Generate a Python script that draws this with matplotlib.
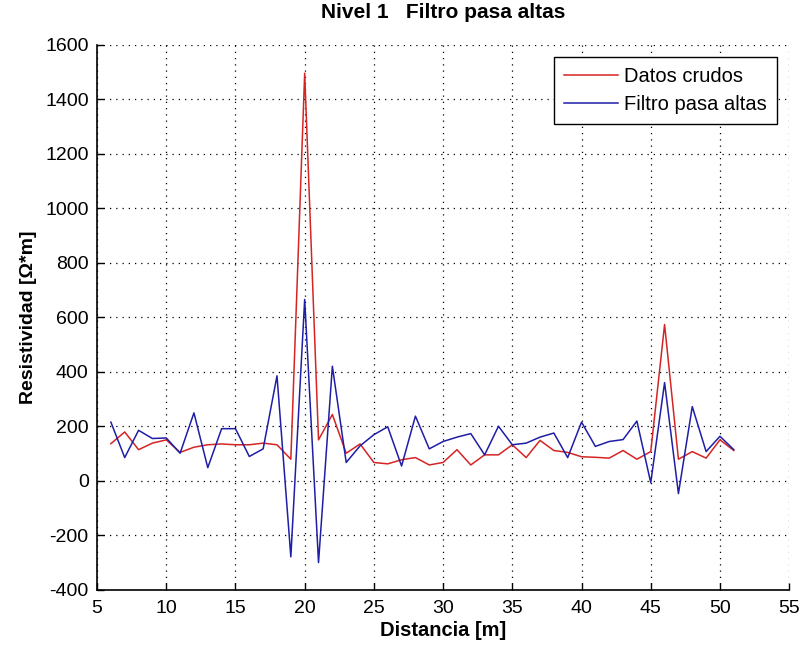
import numpy as np
import matplotlib.pyplot as plt

plt.rcParams["font.family"] = ["Liberation Sans", "DejaVu Sans"]
plt.rcParams["axes.unicode_minus"] = False

distancia = np.arange(6, 52)

datos_crudos = [
    136, 179, 114, 138, 150, 104, 123, 132, 135, 132,
    132, 138, 132, 79, 1495, 150, 243, 101, 135, 67,
    62, 77, 85, 58, 67, 114, 58, 95, 95, 132,
    85, 148, 111, 104, 88, 86, 83, 111, 79, 107,
    573, 79, 107, 83, 150, 111,
]

filtro_pasa_altas = [
    215, 85, 185, 155, 157, 101, 249, 48, 191, 191,
    89, 117, 385, -279, 665, -300, 420, 67, 128, 169,
    198, 54, 237, 117, 144, 160, 173, 95, 200, 132,
    138, 160, 175, 85, 215, 126, 144, 151, 219, -7,
    360, -47, 272, 107, 163, 114,
]

x_ticks = np.arange(5, 56, 5)
y_ticks = np.arange(-400, 1601, 200)


def main():
    fig = plt.figure(figsize=(8.02, 6.46), dpi=100)
    ax = fig.add_axes([0.121, 0.087, 0.863, 0.844])

    ax.plot(distancia, datos_crudos, color="#d42424", lw=1.1, label="Datos crudos")
    ax.plot(distancia, filtro_pasa_altas, color="#1e1ea6", lw=1.1, label="Filtro pasa altas")

    ax.set_xlim(5, 55)
    ax.set_ylim(-400, 1600)
    ax.set_xticks(x_ticks)
    ax.set_yticks(y_ticks)
    ax.tick_params(direction="in", labelsize=14, length=5, width=1)
    ax.tick_params(axis="y", pad=6)
    ax.tick_params(axis="x", pad=7)
    ax.grid(True, color="black", ls=(0, (1, 4)), lw=0.9)
    ax.spines["top"].set_visible(False)
    ax.spines["right"].set_visible(False)
    ax.spines["left"].set_linewidth(1.2)
    ax.spines["bottom"].set_linewidth(1.2)

    ax.set_title("Nivel 1   Filtro pasa altas", fontsize=15, fontweight="bold", pad=19)
    ax.set_xlabel("Distancia [m]", fontsize=14.5, fontweight="bold", labelpad=3)
    ax.set_ylabel("Resistividad [Ω*m]", fontsize=14, fontweight="bold", labelpad=6)

    leg = ax.legend(loc="upper right", fontsize=14.5, fancybox=False, framealpha=1,
                    edgecolor="black", handlelength=2.7, handletextpad=0.3,
                    borderpad=0.5, labelspacing=0.45, borderaxespad=0.6)
    leg.get_frame().set_linewidth(1.0)

    fig.savefig("out.png", dpi=100)


if __name__ == "__main__":
    main()
